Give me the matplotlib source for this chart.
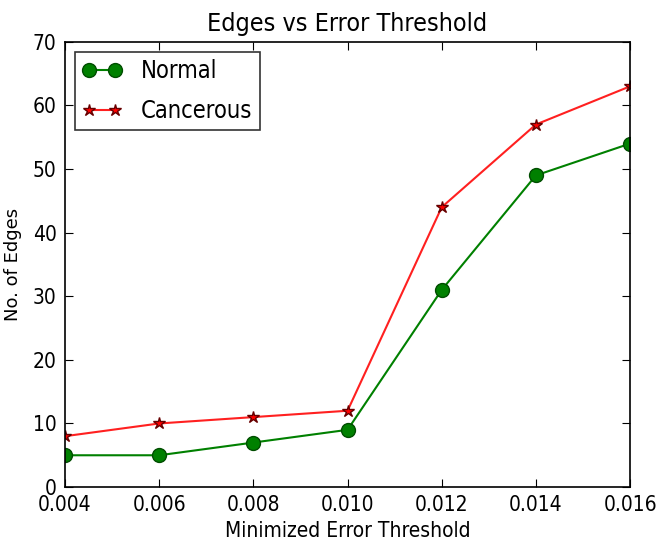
import matplotlib
matplotlib.use("Agg")
import matplotlib.pyplot as plt

# threshold values and edge counts
thresholds = [0.004, 0.006, 0.008, 0.010, 0.012, 0.014, 0.016]
normal_edges = [5, 5, 7, 9, 31, 49, 54]
cancer_edges = [8, 10, 11, 12, 44, 57, 63]

plt.rcParams["font.family"] = ["DejaVu Sans"]
plt.rcParams["font.stretch"] = "condensed"

fig = plt.figure(figsize=(6.57, 5.43), dpi=100)
ax = fig.add_axes([0.099, 0.103, 0.860, 0.820])

ax.plot(thresholds, normal_edges, color="green", marker="o", markersize=10,
        markeredgecolor="#004d00", linewidth=1.5, label="Normal")
ax.plot(thresholds, cancer_edges, color="#ff2020", marker="*", markersize=9,
        markeredgecolor="#660000", markerfacecolor="red", linewidth=1.5, label="Cancerous")

ax.set_xlim(0.004, 0.016)
ax.set_ylim(0, 70)
ax.set_xticks(thresholds)
ax.set_xticklabels(["%.3f" % t for t in thresholds])
ax.set_yticks(range(0, 71, 10))
ax.tick_params(direction="in", top=True, right=True, length=6, labelsize=15, pad=6)
for s in ax.spines.values():
    s.set_linewidth(1.2)

ax.set_title("Edges vs Error Threshold", fontsize=18, pad=8)
ax.set_xlabel("Minimized Error Threshold", fontsize=15)
ax.set_ylabel("No. of Edges", fontsize=13, fontstretch="normal", labelpad=8)

leg = ax.legend(loc="upper left", fontsize=17, fancybox=False, edgecolor="black",
                numpoints=2, handlelength=1.7, handletextpad=0.8, borderpad=0.3,
                labelspacing=0.7, borderaxespad=0.42)
leg.get_frame().set_linewidth(1.2)

fig.savefig("out.png", dpi=100)
